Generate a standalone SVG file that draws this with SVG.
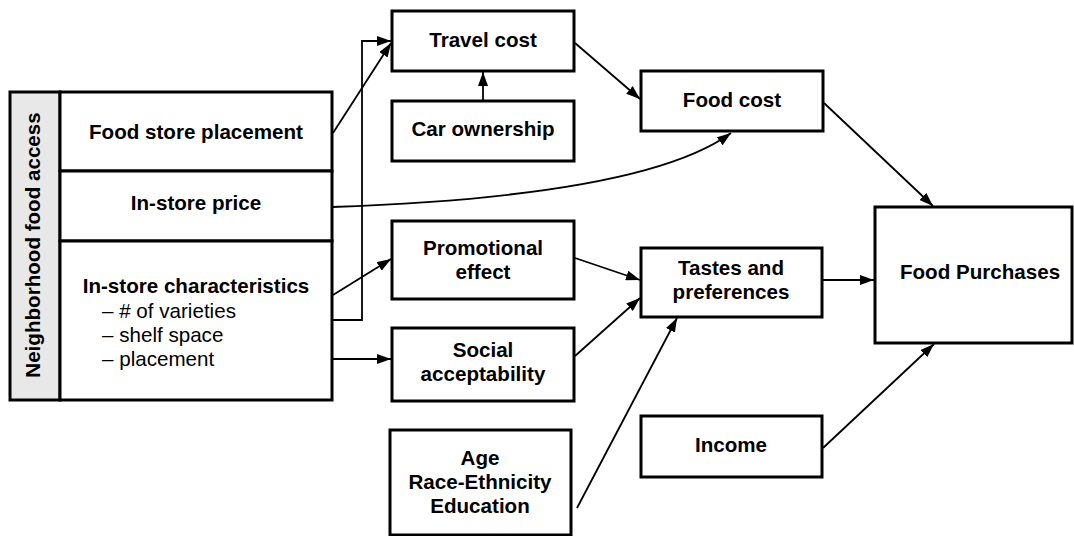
<svg xmlns="http://www.w3.org/2000/svg" width="1074" height="536" viewBox="0 0 1074 536">
<style>
.box{fill:#fff;stroke:#000;stroke-width:3}
.t{font-family:"Liberation Sans",Arial,sans-serif;font-size:20.6px;font-weight:bold;text-anchor:middle;fill:#000}
.r{font-family:"Liberation Sans",Arial,sans-serif;font-size:20.6px;fill:#000}
.c{fill:none;stroke:#000;stroke-width:1.8}
</style>
<defs>
<marker id="ah" viewBox="0 0 14 10" refX="14" refY="5" markerWidth="14" markerHeight="10" markerUnits="userSpaceOnUse" orient="auto">
<path d="M0,0 L14,5 L0,10 z" fill="#000"/>
</marker>
</defs>
<rect width="1074" height="536" fill="#fff"/>
<g id="neighborhood">
<rect x="10" y="92" width="50" height="308" fill="#e8e8e8" stroke="#000" stroke-width="3"/>
<text class="t" transform="translate(40,245) rotate(-90)">Neighborhood food access</text>
</g>
<g id="food-store-placement">
<rect class="box" x="60" y="92" width="272" height="79"/>
<text class="t" x="196" y="139">Food store placement</text>
</g>
<g id="in-store-price">
<rect class="box" x="60" y="171" width="272" height="70"/>
<text class="t" x="196" y="210">In-store price</text>
</g>
<g id="in-store-characteristics">
<rect class="box" x="60" y="241" width="272" height="159"/>
<text class="t" x="196" y="293">In-store characteristics</text>
<text class="r" x="102" y="318">– # of varieties</text>
<text class="r" x="102" y="342">– shelf space</text>
<text class="r" x="102" y="366">– placement</text>
</g>
<g id="travel-cost">
<rect class="box" x="392" y="11" width="182" height="60"/>
<text class="t" x="483" y="47">Travel cost</text>
</g>
<g id="car-ownership">
<rect class="box" x="392" y="101" width="182" height="60"/>
<text class="t" x="483" y="136">Car ownership</text>
</g>
<g id="promotional-effect">
<rect class="box" x="392" y="221" width="182" height="78"/>
<text class="t" x="483" y="255">Promotional</text>
<text class="t" x="483" y="279">effect</text>
</g>
<g id="social-acceptability">
<rect class="box" x="392" y="328" width="182" height="73"/>
<text class="t" x="483" y="357">Social</text>
<text class="t" x="483" y="381">acceptability</text>
</g>
<g id="demographics">
<rect class="box" x="390" y="430" width="181" height="105"/>
<text class="t" x="480" y="465">Age</text>
<text class="t" x="480" y="489">Race-Ethnicity</text>
<text class="t" x="480" y="513">Education</text>
</g>
<g id="food-cost">
<rect class="box" x="641" y="71" width="182" height="60"/>
<text class="t" x="732" y="107">Food cost</text>
</g>
<g id="tastes">
<rect class="box" x="641" y="248" width="181" height="69"/>
<text class="t" x="731" y="275">Tastes and</text>
<text class="t" x="731" y="299">preferences</text>
</g>
<g id="income">
<rect class="box" x="641" y="416" width="181" height="61"/>
<text class="t" x="731" y="452">Income</text>
</g>
<g id="food-purchases">
<rect class="box" x="875" y="207" width="197" height="136"/>
<text class="t" x="980" y="279">Food Purchases</text>
</g>
<g id="connectors">
<path class="c" d="M333,133 L391,43" marker-end="url(#ah)"/>
<path class="c" d="M332,320 L362,320 L362,41 L391,41" marker-end="url(#ah)"/>
<path class="c" d="M483,101 L483,72" marker-end="url(#ah)"/>
<path class="c" d="M575,43 L640,99" marker-end="url(#ah)"/>
<path class="c" d="M332,207 Q645,196 731,133" marker-end="url(#ah)"/>
<path class="c" d="M333,295 L391,259" marker-end="url(#ah)"/>
<path class="c" d="M332,359 L391,359" marker-end="url(#ah)"/>
<path class="c" d="M575,258 L640,280" marker-end="url(#ah)"/>
<path class="c" d="M575,356 L640,298" marker-end="url(#ah)"/>
<path class="c" d="M577,508 L677,318" marker-end="url(#ah)"/>
<path class="c" d="M824,103 L933,206" marker-end="url(#ah)"/>
<path class="c" d="M822,280 L874,280" marker-end="url(#ah)"/>
<path class="c" d="M823,448 L934,344" marker-end="url(#ah)"/>
</g>
</svg>
